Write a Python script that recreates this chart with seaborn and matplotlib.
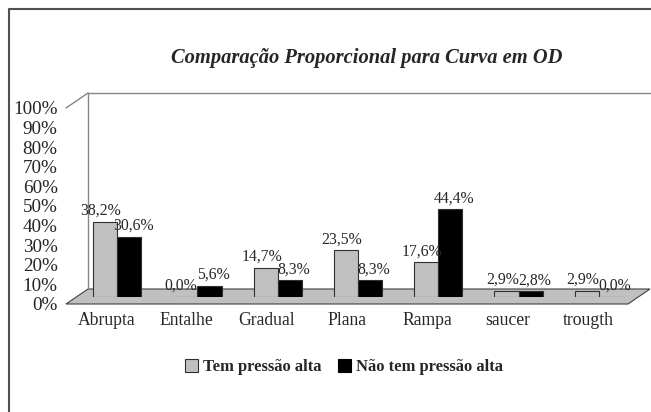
import pandas as pd
import matplotlib.pyplot as plt
import seaborn as sns
from matplotlib.patches import Patch, Polygon
from matplotlib.lines import Line2D

# values (proportions)
categorias = ["Abrupta", "Entalhe", "Gradual", "Plana", "Rampa", "saucer", "trougth"]
tem_pressao = [0.382, 0.000, 0.147, 0.235, 0.176, 0.029, 0.029]
nao_tem_pressao = [0.306, 0.056, 0.083, 0.083, 0.444, 0.028, 0.000]
series = ["Tem pressão alta", "Não tem pressão alta"]
y_ticks = [0, 0.1, 0.2, 0.3, 0.4, 0.5, 0.6, 0.7, 0.8, 0.9, 1.0]

df = pd.DataFrame({
    "categoria": categorias * 2,
    "serie": [series[0]] * len(categorias) + [series[1]] * len(categorias),
    "valor": tem_pressao + nao_tem_pressao,
})

sns.set_style("white")
plt.rcParams["font.family"] = ["Liberation Serif", "DejaVu Serif"]

W, H = 651, 412
fig = plt.figure(figsize=(W / 100, H / 100), dpi=100)

# front axes box in pixels, plus depth offset for the fake 3D look
left, right, bottom, top = 66, 628, 304, 108
dx, dy = 22, 15


def box(ox, oy):
    return [(left + ox) / W, 1 - (bottom - oy) / H, (right - left) / W, (bottom - top) / H]


px = lambda x, y: (x / W, 1 - y / H)

# floor of the chart
floor = Polygon([px(left, bottom), px(right, bottom), px(right + dx, bottom - dy), px(left + dx, bottom - dy)],
                closed=True, transform=fig.transFigure, facecolor="#c0c0c0", edgecolor="#404040",
                lw=0.8, zorder=-2)
fig.add_artist(floor)
fig.add_artist(Line2D([px(left, top)[0], px(left + dx, top - dy)[0]],
                      [px(left, top)[1], px(left + dx, top - dy)[1]],
                      transform=fig.transFigure, color="#808890", lw=1.0, zorder=-2))

# back wall
wall = fig.add_axes(box(dx, dy), zorder=-1)
wall.set_xticks([])
wall.set_yticks([])
for s in ["right", "bottom"]:
    wall.spines[s].set_visible(False)
for s in ["left", "top"]:
    wall.spines[s].set_color("#808890")
    wall.spines[s].set_linewidth(1.0)
wall.patch.set_alpha(0)

# front axes: ticks and category labels
ax = fig.add_axes(box(0, 0), zorder=0)
ax.patch.set_alpha(0)
ax.set_ylim(0, 1)
ax.set_xlim(-0.5, len(categorias) - 0.5)
ax.set_yticks(y_ticks)
ax.set_yticklabels([f"{int(round(t * 100))}%" for t in y_ticks], fontsize=13.8)
ax.tick_params(axis="y", length=0, pad=6)
ax.set_xticks(range(len(categorias)))
ax.set_xticklabels(categorias, fontsize=12.7)
ax.tick_params(axis="x", length=0, pad=6)
ax.set_xticks([i - 0.5 for i in range(len(categorias) + 1)], minor=True)
ax.tick_params(axis="x", which="minor", length=5, color="#404040", direction="out")
for s in ax.spines.values():
    s.set_visible(False)

# bars sit half-way into the depth
bx = fig.add_axes(box(dx / 2, dy / 2), zorder=1)
bx.patch.set_alpha(0)
sns.barplot(data=df, x="categoria", y="valor", hue="serie",
            palette=["#c0c0c0", "#000000"], edgecolor="#303030", linewidth=0.8,
            width=0.6, ax=bx, legend=False)
bx.set_ylim(0, 1)
bx.set_xlim(-0.5, len(categorias) - 0.5)
bx.axis("off")

for k, container in enumerate(bx.containers):
    shift = -3 if k == 0 else 3
    for b in container:
        h = b.get_height()
        bx.annotate(f"{h * 100:.1f}%".replace(".", ","), (b.get_x() + b.get_width() / 2, h),
                    xytext=(shift, 2), textcoords="offset points",
                    ha="center", va="bottom", fontsize=11.3)

fig.text(367 / W, 1 - 58 / H, "Comparação Proporcional para Curva em OD",
         ha="center", va="center", fontsize=14.8, fontweight="bold", fontstyle="italic")

handles = [Patch(facecolor="#c0c0c0", edgecolor="#303030", lw=0.8),
           Patch(facecolor="#000000", edgecolor="#000000", lw=0.8)]
fig.legend(handles, series, loc="center", bbox_to_anchor=(344 / W, 1 - 367 / H), ncol=2,
           frameon=False, handlelength=0.8, handleheight=0.8, handletextpad=0.3,
           columnspacing=1.0, prop={"weight": "bold", "size": 12})

# outer frame (top and left edges visible in the original)
fig.add_artist(Line2D([8.5 / W, 8.5 / W, 1], [0, 1 - 9 / H, 1 - 9 / H],
                      transform=fig.transFigure, color="#505050", lw=1.5))

fig.savefig("out.png", dpi=100)
